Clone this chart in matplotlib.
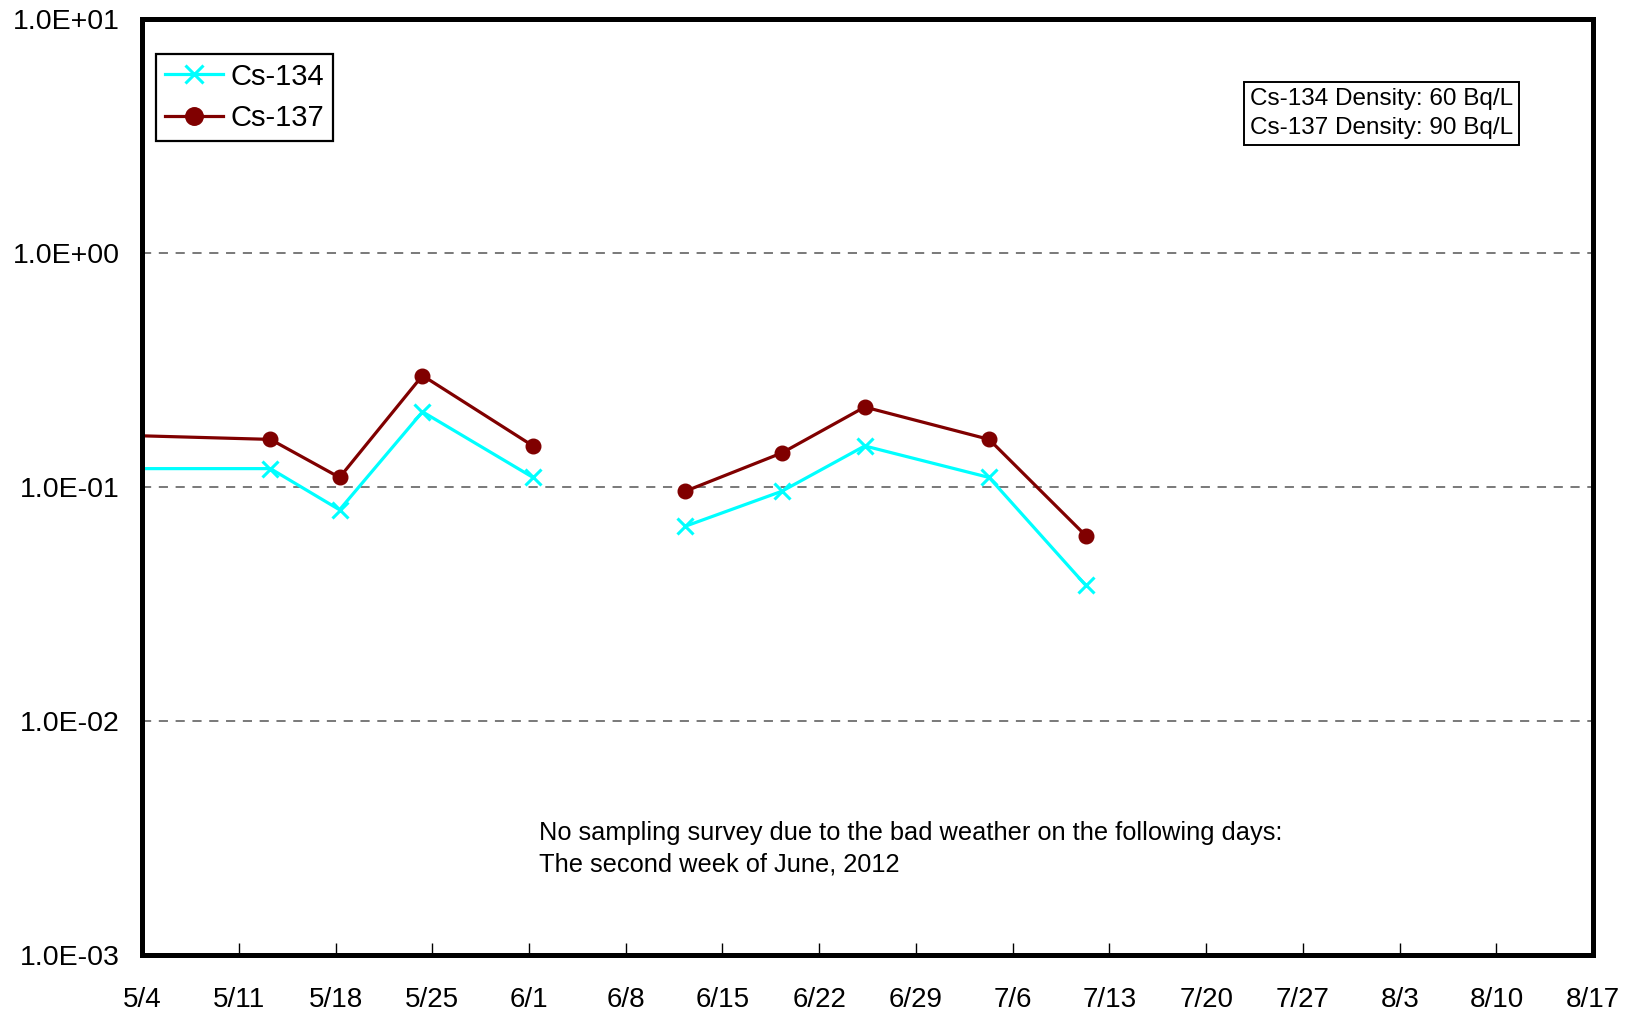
import datetime as dt
import numpy as np
import matplotlib
matplotlib.use("Agg")
import matplotlib.pyplot as plt
import matplotlib.dates as mdates

plt.rcParams['font.family'] = ['Liberation Sans', 'DejaVu Sans']

# DATA (sampling dates, 2012; None = no survey)
dates = [
    dt.datetime(2012, 4, 27, 7), dt.datetime(2012, 5, 13, 7), dt.datetime(2012, 5, 18, 7),
    dt.datetime(2012, 5, 24, 7), dt.datetime(2012, 6, 1, 7), dt.datetime(2012, 6, 6, 7),
    dt.datetime(2012, 6, 12, 7), dt.datetime(2012, 6, 19, 7), dt.datetime(2012, 6, 25, 7),
    dt.datetime(2012, 7, 4, 7), dt.datetime(2012, 7, 11, 7),
]
cs134 = [0.12, 0.12, 0.080, 0.21, 0.11, np.nan, 0.068, 0.096, 0.15, 0.11, 0.038]
cs137 = [0.17, 0.16, 0.11, 0.30, 0.15, np.nan, 0.096, 0.14, 0.22, 0.16, 0.062]

x_start = dt.datetime(2012, 5, 4)
x_end = dt.datetime(2012, 8, 17)
y_ticks = [1e-3, 1e-2, 1e-1, 1e0, 1e1]
y_labels = ["1.0E-03", "1.0E-02", "1.0E-01", "1.0E+00", "1.0E+01"]

note = ("No sampling survey due to the bad weather on the following days:\n"
        "The second week of June, 2012")
density = "Cs-134 Density: 60 Bq/L\nCs-137 Density: 90 Bq/L"

# PLOT
fig = plt.figure(figsize=(16.29, 10.17), dpi=100)
ax = fig.add_axes([0.0872, 0.061, 0.8908, 0.92])

ax.plot(dates, cs134, color="#00ffff", lw=2.3, marker="x", ms=11, mew=2.2, label="Cs-134")
ax.plot(dates, cs137, color="#800000", lw=2.3, marker="o", ms=10.5, label="Cs-137")

ax.set_yscale("log")
ax.set_ylim(1e-3, 1e1)
ax.set_xlim(x_start, x_end)

ax.set_yticks(y_ticks)
ax.set_yticklabels(y_labels)
ax.minorticks_off()
ax.tick_params(axis="y", length=0, pad=16, labelsize=20.5)

ax.set_xticks(mdates.drange(x_start, x_end + dt.timedelta(days=1), dt.timedelta(days=7)))
ax.xaxis.set_major_formatter(plt.FuncFormatter(
    lambda v, pos: f"{mdates.num2date(v).month}/{mdates.num2date(v).day}"))
ax.tick_params(axis="x", direction="in", length=9, width=1, pad=23, labelsize=20)

for s in ax.spines.values():
    s.set_linewidth(3.6)

for yv in [1e-2, 1e-1, 1e0]:
    ax.axhline(yv, color="#555555", lw=1.1, ls=(0, (6, 5)), zorder=0)

leg = ax.legend(loc="upper left", bbox_to_anchor=(0.0096, 0.963), borderaxespad=0,
                fontsize=21, fancybox=False, framealpha=1, handlelength=2.0,
                handletextpad=0.25, borderpad=0.3, labelspacing=0.45, markerscale=1.2)
leg.get_frame().set_edgecolor("black")
leg.get_frame().set_linewidth(1.6)

ax.text(0.7636, 0.8995, density, transform=ax.transAxes, ha="left", va="center",
        fontsize=17.5, linespacing=1.4,
        bbox=dict(boxstyle="square,pad=0.25", fc="white", ec="black", lw=1.4))

ax.text(0.2736, 0.1138, note, transform=ax.transAxes, ha="left", va="center",
        fontsize=18.3, linespacing=1.4)

fig.savefig("out.png", dpi=100)
